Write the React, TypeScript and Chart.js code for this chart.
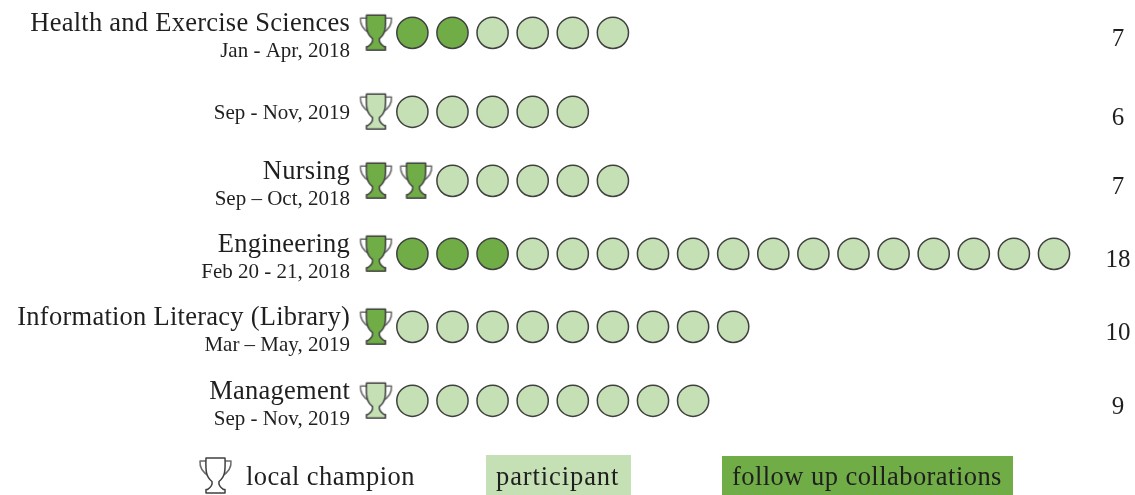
import React, { useEffect, useRef } from "react";
import { Chart, registerables } from "chart.js";

Chart.register(...registerables);

const rowNames = ["Health and Exercise Sciences", "", "Nursing", "Engineering", "Information Literacy (Library)", "Management"];
const rowDates = ["Jan - Apr, 2018", "Sep - Nov, 2019", "Sep \u2013 Oct, 2018", "Feb 20 - 21, 2018", "Mar \u2013 May, 2019", "Sep - Nov, 2019"];
const totals = [7, 6, 7, 18, 10, 9];
const championsFollowUp = [1, 0, 2, 1, 1, 0];
const championsParticipant = [0, 1, 0, 0, 0, 1];
const followUps = [2, 0, 0, 3, 0, 0];
const participants = [4, 5, 5, 14, 9, 8];
const legendLabels = ["local champion", "participant", "follow up collaborations"];

const DARK = "#70AD47";
const LIGHT = "#C5E0B4";
const STROKE = "#404040";
const HANDLE = "#6b6b6b";
const TEXT = "#1f1f1f";
const FONT = '"Liberation Serif", serif';
const ROW_SHIFT = [0, 0.073, 0.011, 0.003, -0.005, 0];

function traceTrophy(ctx: CanvasRenderingContext2D, fill: string, stroke: string) {
  ctx.lineJoin = "round";
  ctx.lineWidth = 1.5;
  ctx.strokeStyle = HANDLE;
  // handles
  ctx.beginPath();
  ctx.moveTo(7, 4);
  ctx.lineTo(1, 4);
  ctx.bezierCurveTo(0.5, 10, 3, 15, 10, 19);
  ctx.moveTo(26, 4);
  ctx.lineTo(32, 4);
  ctx.bezierCurveTo(32.5, 10, 30, 15, 23, 19);
  ctx.stroke();
  // cup, stem and base
  ctx.strokeStyle = stroke;
  ctx.beginPath();
  ctx.moveTo(7, 1);
  ctx.lineTo(26, 1);
  ctx.bezierCurveTo(26.5, 14, 26, 20, 20, 24.5);
  ctx.bezierCurveTo(19.5, 27, 20.5, 30, 24.5, 32.5);
  ctx.lineTo(26, 32.5);
  ctx.lineTo(26, 36);
  ctx.lineTo(7, 36);
  ctx.lineTo(7, 32.5);
  ctx.lineTo(8.5, 32.5);
  ctx.bezierCurveTo(12.5, 30, 13.5, 27, 13, 24.5);
  ctx.bezierCurveTo(7, 20, 6.5, 14, 7, 1);
  ctx.closePath();
  ctx.fillStyle = fill;
  ctx.fill();
  ctx.stroke();
}

function trophyImage(fill: string): HTMLCanvasElement {
  const c = document.createElement("canvas");
  c.width = 56;
  c.height = 56;
  const ctx = c.getContext("2d")!;
  // trophy sits slightly right of the slot centre
  ctx.translate(28 + 3.7 - 16.5, 28 - 0.3 - 18.5);
  traceTrophy(ctx, fill, STROKE);
  return c;
}

function rowY(i: number) {
  return i + ROW_SHIFT[i];
}

function slots(counts: number[], startAt: (row: number) => number) {
  const out: { x: number; y: number }[] = [];
  counts.forEach((n, row) => {
    for (let k = 0; k < n; k++) out.push({ x: startAt(row) + k, y: rowY(row) });
  });
  return out;
}

const textPlugin = {
  id: "sideText",
  afterDatasetsDraw(chart: any) {
    const { ctx, scales } = chart;
    ctx.save();
    ctx.fillStyle = TEXT;
    ctx.textBaseline = "alphabetic";
    rowNames.forEach((name, i) => {
      const y = scales.y.getPixelForValue(rowY(i));
      ctx.textAlign = "right";
      if (name) {
        ctx.font = `26.5px ${FONT}`;
        (ctx as any).letterSpacing = "0.25px";
        ctx.fillText(name, 350, y - 2);
      }
      ctx.font = `21px ${FONT}`;
      (ctx as any).letterSpacing = "0px";
      ctx.fillText(rowDates[i], 350, y + (name ? 24 : 7));
      ctx.textAlign = "center";
      ctx.font = `25px ${FONT}`;
      ctx.fillText(String(totals[i]), 1118, y + 13);
    });

    ctx.fillStyle = LIGHT;
    ctx.fillRect(486, 455, 145, 40);
    ctx.fillStyle = DARK;
    ctx.fillRect(722, 456, 291, 39);

    ctx.save();
    ctx.translate(199, 457);
    traceTrophy(ctx, "#ffffff", STROKE);
    ctx.restore();

    ctx.fillStyle = TEXT;
    ctx.textAlign = "left";
    ctx.font = `26.5px ${FONT}`;
    (ctx as any).letterSpacing = "0.45px";
    ctx.fillText(legendLabels[0], 246, 485);
    ctx.fillText(legendLabels[2], 732, 485);
    (ctx as any).letterSpacing = "0.9px";
    ctx.fillText(legendLabels[1], 496, 485);
    ctx.restore();
  },
};

export default function App() {
  const ref = useRef<HTMLCanvasElement>(null);

  useEffect(() => {
    const chart = new Chart(ref.current!, {
      type: "scatter",
      data: {
        datasets: [
          {
            label: "local champion, follow up",
            data: slots(championsFollowUp, () => 0),
            pointStyle: trophyImage(DARK),
            pointRadius: 20,
          },
          {
            label: "local champion, participant",
            data: slots(championsParticipant, () => 0),
            pointStyle: trophyImage(LIGHT),
            pointRadius: 20,
          },
          {
            label: "follow up collaborations",
            data: slots(followUps, (r) => championsFollowUp[r] + championsParticipant[r]),
            pointStyle: "circle",
            pointRadius: 15.6,
            backgroundColor: DARK,
            borderColor: STROKE,
            borderWidth: 1.5,
          },
          {
            label: "participant",
            data: slots(participants, (r) => championsFollowUp[r] + championsParticipant[r] + followUps[r]),
            pointStyle: "circle",
            pointRadius: 15.6,
            backgroundColor: LIGHT,
            borderColor: STROKE,
            borderWidth: 1.5,
          },
        ],
      },
      options: {
        animation: false,
        responsive: false,
        events: [],
        layout: { padding: 0, autoPadding: false },
        plugins: { legend: { display: false }, tooltip: { enabled: false } },
        scales: {
          x: { type: "linear", display: false, min: -9.284, max: 19.02 },
          y: { type: "linear", display: false, reverse: true, min: -0.446, max: 6.28 },
        },
      },
      plugins: [textPlugin],
    } as any);
    return () => chart.destroy();
  }, []);

  return (
    <div style={{ position: "absolute", left: 0, top: 0, width: 1135, height: 495, background: "#fff" }}>
      <canvas ref={ref} width={1135} height={495} style={{ display: "block" }} />
    </div>
  );
}
